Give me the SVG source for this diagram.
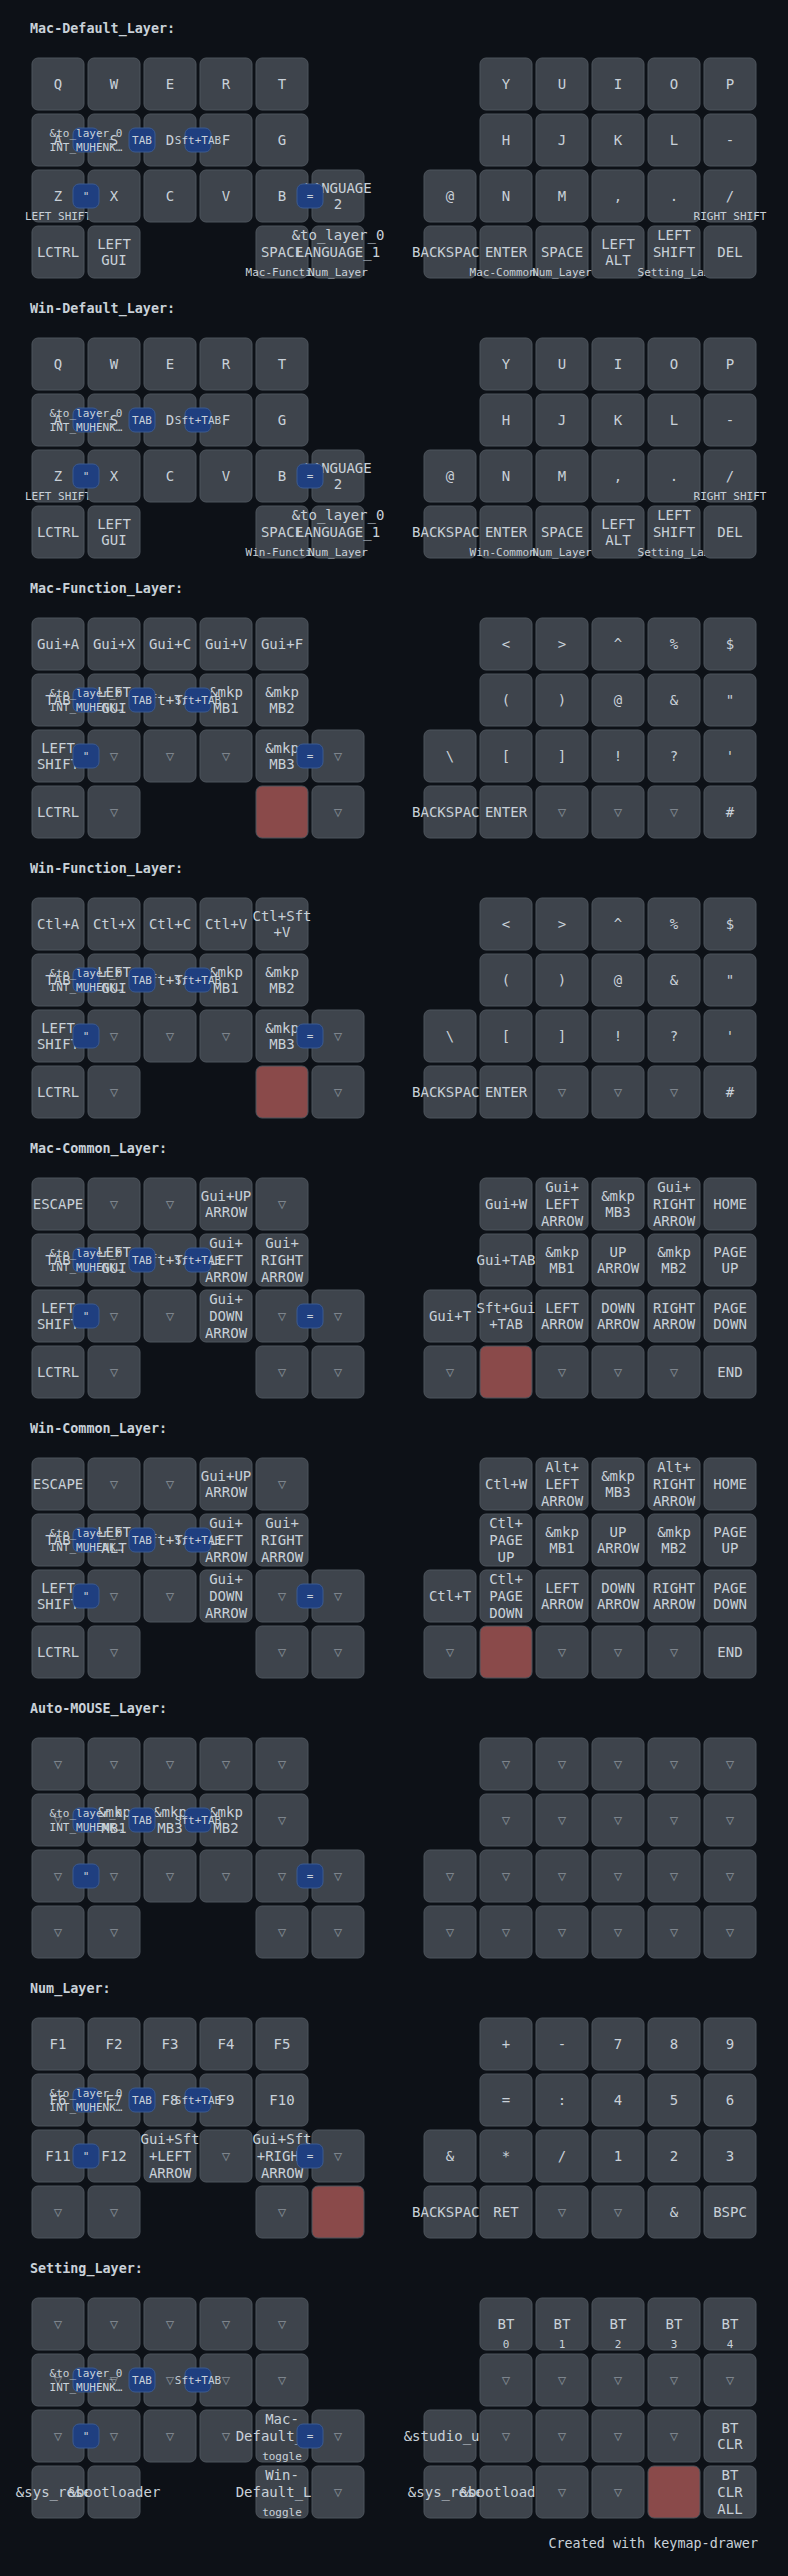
<svg xmlns="http://www.w3.org/2000/svg" xmlns:xlink="http://www.w3.org/1999/xlink" width="788" height="2576" viewBox="0 0 788 2576">
<style>
text{font-family:"DejaVu Sans Mono","Liberation Mono",monospace;font-size:14px;fill:#c9d1d9;text-anchor:middle}
.bg{fill:#0d1117}
.key{fill:#3e444c;stroke:#4d545c;stroke-width:1}
.held{fill:#8a4a4a;stroke:#4d545c;stroke-width:1}
.combo{fill:#1f3f80;stroke:#3b5a90;stroke-width:1}
.h,.c{font-size:11px}
.t{fill:#7d848c}
.label{font-weight:bold;text-anchor:start;font-size:13.4px}
.footer{text-anchor:end;font-size:13.4px}
</style>
<defs>
<rect id="k" class="key" x="-26" y="-26" width="52" height="52" rx="6"/>
<rect id="kh" class="held" x="-26" y="-26" width="52" height="52" rx="6"/>
<rect id="cb" class="combo" x="-13" y="-12" width="26" height="24" rx="6"/>
</defs>
<rect class="bg" x="0" y="0" width="788" height="2576"/>

<g id="layer-mac-default">
<text class="label" x="30" y="33">Mac-Default_Layer:</text>
<g id="md-00" transform="translate(58,84)"><use href="#k"/><text y="5">Q</text></g>
<g id="md-01" transform="translate(114,84)"><use href="#k"/><text y="5">W</text></g>
<g id="md-02" transform="translate(170,84)"><use href="#k"/><text y="5">E</text></g>
<g id="md-03" transform="translate(226,84)"><use href="#k"/><text y="5">R</text></g>
<g id="md-04" transform="translate(282,84)"><use href="#k"/><text y="5">T</text></g>
<g id="md-05" transform="translate(506,84)"><use href="#k"/><text y="5">Y</text></g>
<g id="md-06" transform="translate(562,84)"><use href="#k"/><text y="5">U</text></g>
<g id="md-07" transform="translate(618,84)"><use href="#k"/><text y="5">I</text></g>
<g id="md-08" transform="translate(674,84)"><use href="#k"/><text y="5">O</text></g>
<g id="md-09" transform="translate(730,84)"><use href="#k"/><text y="5">P</text></g>
<g id="md-10" transform="translate(58,140)"><use href="#k"/><text y="5">A</text></g>
<g id="md-11" transform="translate(114,140)"><use href="#k"/><text y="5">S</text></g>
<g id="md-12" transform="translate(170,140)"><use href="#k"/><text y="5">D</text></g>
<g id="md-13" transform="translate(226,140)"><use href="#k"/><text y="5">F</text></g>
<g id="md-14" transform="translate(282,140)"><use href="#k"/><text y="5">G</text></g>
<g id="md-15" transform="translate(506,140)"><use href="#k"/><text y="5">H</text></g>
<g id="md-16" transform="translate(562,140)"><use href="#k"/><text y="5">J</text></g>
<g id="md-17" transform="translate(618,140)"><use href="#k"/><text y="5">K</text></g>
<g id="md-18" transform="translate(674,140)"><use href="#k"/><text y="5">L</text></g>
<g id="md-19" transform="translate(730,140)"><use href="#k"/><text y="5">-</text></g>
<g id="md-20" transform="translate(58,196)"><use href="#k"/><text y="5">Z</text><text class="h" y="24">LEFT SHIFT</text></g>
<g id="md-21" transform="translate(114,196)"><use href="#k"/><text y="5">X</text></g>
<g id="md-22" transform="translate(170,196)"><use href="#k"/><text y="5">C</text></g>
<g id="md-23" transform="translate(226,196)"><use href="#k"/><text y="5">V</text></g>
<g id="md-24" transform="translate(282,196)"><use href="#k"/><text y="5">B</text></g>
<g id="md-25" transform="translate(338,196)"><use href="#k"/><text><tspan x="0" y="-3.4">LANGUAGE</tspan><tspan x="0" y="13.4">2</tspan></text></g>
<g id="md-26" transform="translate(450,196)"><use href="#k"/><text y="5">@</text></g>
<g id="md-27" transform="translate(506,196)"><use href="#k"/><text y="5">N</text></g>
<g id="md-28" transform="translate(562,196)"><use href="#k"/><text y="5">M</text></g>
<g id="md-29" transform="translate(618,196)"><use href="#k"/><text y="5">,</text></g>
<g id="md-30" transform="translate(674,196)"><use href="#k"/><text y="5">.</text></g>
<g id="md-31" transform="translate(730,196)"><use href="#k"/><text y="5">/</text><text class="h" y="24">RIGHT SHIFT</text></g>
<g id="md-32" transform="translate(58,252)"><use href="#k"/><text y="5">LCTRL</text></g>
<g id="md-33" transform="translate(114,252)"><use href="#k"/><text><tspan x="0" y="-3.4">LEFT</tspan><tspan x="0" y="13.4">GUI</tspan></text></g>
<g id="md-34" transform="translate(282,252)"><use href="#k"/><text y="5">SPACE</text><text class="h" y="24">Mac-Functi…</text></g>
<g id="md-35" transform="translate(338,252)"><use href="#k"/><text><tspan x="0" y="-11.8">&amp;to_layer_0</tspan><tspan x="0" y="5">LANGUAGE_1</tspan></text><text class="h" y="24">Num_Layer</text></g>
<g id="md-36" transform="translate(450,252)"><use href="#k"/><text y="5">BACKSPACE</text></g>
<g id="md-37" transform="translate(506,252)"><use href="#k"/><text y="5">ENTER</text><text class="h" y="24">Mac-Common…</text></g>
<g id="md-38" transform="translate(562,252)"><use href="#k"/><text y="5">SPACE</text><text class="h" y="24">Num_Layer</text></g>
<g id="md-39" transform="translate(618,252)"><use href="#k"/><text><tspan x="0" y="-3.4">LEFT</tspan><tspan x="0" y="13.4">ALT</tspan></text></g>
<g id="md-40" transform="translate(674,252)"><use href="#k"/><text><tspan x="0" y="-11.8">LEFT</tspan><tspan x="0" y="5">SHIFT</tspan></text><text class="h" y="24">Setting_La…</text></g>
<g id="md-41" transform="translate(730,252)"><use href="#k"/><text y="5">DEL</text></g>
<g id="md-combos">
<g id="md-c0" transform="translate(86,140)"><use href="#cb"/><text class="c"><tspan x="0" y="-2.6">&amp;to_layer_0</tspan><tspan x="0" y="10.6">INT_MUHENK…</tspan></text></g>
<g id="md-c1" transform="translate(142,140)"><use href="#cb"/><text class="c" y="4">TAB</text></g>
<g id="md-c2" transform="translate(198,140)"><use href="#cb"/><text class="c" y="4">Sft+TAB</text></g>
<g id="md-c3" transform="translate(86,196)"><use href="#cb"/><text class="c" y="4">"</text></g>
<g id="md-c4" transform="translate(310,196)"><use href="#cb"/><text class="c" y="4">=</text></g>
</g>
</g>

<g id="layer-win-default" transform="translate(0,280)">
<text class="label" x="30" y="33">Win-Default_Layer:</text>
<g id="wd-00" transform="translate(58,84)"><use href="#k"/><text y="5">Q</text></g>
<g id="wd-01" transform="translate(114,84)"><use href="#k"/><text y="5">W</text></g>
<g id="wd-02" transform="translate(170,84)"><use href="#k"/><text y="5">E</text></g>
<g id="wd-03" transform="translate(226,84)"><use href="#k"/><text y="5">R</text></g>
<g id="wd-04" transform="translate(282,84)"><use href="#k"/><text y="5">T</text></g>
<g id="wd-05" transform="translate(506,84)"><use href="#k"/><text y="5">Y</text></g>
<g id="wd-06" transform="translate(562,84)"><use href="#k"/><text y="5">U</text></g>
<g id="wd-07" transform="translate(618,84)"><use href="#k"/><text y="5">I</text></g>
<g id="wd-08" transform="translate(674,84)"><use href="#k"/><text y="5">O</text></g>
<g id="wd-09" transform="translate(730,84)"><use href="#k"/><text y="5">P</text></g>
<g id="wd-10" transform="translate(58,140)"><use href="#k"/><text y="5">A</text></g>
<g id="wd-11" transform="translate(114,140)"><use href="#k"/><text y="5">S</text></g>
<g id="wd-12" transform="translate(170,140)"><use href="#k"/><text y="5">D</text></g>
<g id="wd-13" transform="translate(226,140)"><use href="#k"/><text y="5">F</text></g>
<g id="wd-14" transform="translate(282,140)"><use href="#k"/><text y="5">G</text></g>
<g id="wd-15" transform="translate(506,140)"><use href="#k"/><text y="5">H</text></g>
<g id="wd-16" transform="translate(562,140)"><use href="#k"/><text y="5">J</text></g>
<g id="wd-17" transform="translate(618,140)"><use href="#k"/><text y="5">K</text></g>
<g id="wd-18" transform="translate(674,140)"><use href="#k"/><text y="5">L</text></g>
<g id="wd-19" transform="translate(730,140)"><use href="#k"/><text y="5">-</text></g>
<g id="wd-20" transform="translate(58,196)"><use href="#k"/><text y="5">Z</text><text class="h" y="24">LEFT SHIFT</text></g>
<g id="wd-21" transform="translate(114,196)"><use href="#k"/><text y="5">X</text></g>
<g id="wd-22" transform="translate(170,196)"><use href="#k"/><text y="5">C</text></g>
<g id="wd-23" transform="translate(226,196)"><use href="#k"/><text y="5">V</text></g>
<g id="wd-24" transform="translate(282,196)"><use href="#k"/><text y="5">B</text></g>
<g id="wd-25" transform="translate(338,196)"><use href="#k"/><text><tspan x="0" y="-3.4">LANGUAGE</tspan><tspan x="0" y="13.4">2</tspan></text></g>
<g id="wd-26" transform="translate(450,196)"><use href="#k"/><text y="5">@</text></g>
<g id="wd-27" transform="translate(506,196)"><use href="#k"/><text y="5">N</text></g>
<g id="wd-28" transform="translate(562,196)"><use href="#k"/><text y="5">M</text></g>
<g id="wd-29" transform="translate(618,196)"><use href="#k"/><text y="5">,</text></g>
<g id="wd-30" transform="translate(674,196)"><use href="#k"/><text y="5">.</text></g>
<g id="wd-31" transform="translate(730,196)"><use href="#k"/><text y="5">/</text><text class="h" y="24">RIGHT SHIFT</text></g>
<g id="wd-32" transform="translate(58,252)"><use href="#k"/><text y="5">LCTRL</text></g>
<g id="wd-33" transform="translate(114,252)"><use href="#k"/><text><tspan x="0" y="-3.4">LEFT</tspan><tspan x="0" y="13.4">GUI</tspan></text></g>
<g id="wd-34" transform="translate(282,252)"><use href="#k"/><text y="5">SPACE</text><text class="h" y="24">Win-Functi…</text></g>
<g id="wd-35" transform="translate(338,252)"><use href="#k"/><text><tspan x="0" y="-11.8">&amp;to_layer_0</tspan><tspan x="0" y="5">LANGUAGE_1</tspan></text><text class="h" y="24">Num_Layer</text></g>
<g id="wd-36" transform="translate(450,252)"><use href="#k"/><text y="5">BACKSPACE</text></g>
<g id="wd-37" transform="translate(506,252)"><use href="#k"/><text y="5">ENTER</text><text class="h" y="24">Win-Common…</text></g>
<g id="wd-38" transform="translate(562,252)"><use href="#k"/><text y="5">SPACE</text><text class="h" y="24">Num_Layer</text></g>
<g id="wd-39" transform="translate(618,252)"><use href="#k"/><text><tspan x="0" y="-3.4">LEFT</tspan><tspan x="0" y="13.4">ALT</tspan></text></g>
<g id="wd-40" transform="translate(674,252)"><use href="#k"/><text><tspan x="0" y="-11.8">LEFT</tspan><tspan x="0" y="5">SHIFT</tspan></text><text class="h" y="24">Setting_La…</text></g>
<g id="wd-41" transform="translate(730,252)"><use href="#k"/><text y="5">DEL</text></g>
<g id="wd-combos">
<g id="wd-c0" transform="translate(86,140)"><use href="#cb"/><text class="c"><tspan x="0" y="-2.6">&amp;to_layer_0</tspan><tspan x="0" y="10.6">INT_MUHENK…</tspan></text></g>
<g id="wd-c1" transform="translate(142,140)"><use href="#cb"/><text class="c" y="4">TAB</text></g>
<g id="wd-c2" transform="translate(198,140)"><use href="#cb"/><text class="c" y="4">Sft+TAB</text></g>
<g id="wd-c3" transform="translate(86,196)"><use href="#cb"/><text class="c" y="4">"</text></g>
<g id="wd-c4" transform="translate(310,196)"><use href="#cb"/><text class="c" y="4">=</text></g>
</g>
</g>

<g id="layer-mac-function" transform="translate(0,560)">
<text class="label" x="30" y="33">Mac-Function_Layer:</text>
<g id="mf-00" transform="translate(58,84)"><use href="#k"/><text y="5">Gui+A</text></g>
<g id="mf-01" transform="translate(114,84)"><use href="#k"/><text y="5">Gui+X</text></g>
<g id="mf-02" transform="translate(170,84)"><use href="#k"/><text y="5">Gui+C</text></g>
<g id="mf-03" transform="translate(226,84)"><use href="#k"/><text y="5">Gui+V</text></g>
<g id="mf-04" transform="translate(282,84)"><use href="#k"/><text y="5">Gui+F</text></g>
<g id="mf-05" transform="translate(506,84)"><use href="#k"/><text y="5">&lt;</text></g>
<g id="mf-06" transform="translate(562,84)"><use href="#k"/><text y="5">&gt;</text></g>
<g id="mf-07" transform="translate(618,84)"><use href="#k"/><text y="5">^</text></g>
<g id="mf-08" transform="translate(674,84)"><use href="#k"/><text y="5">%</text></g>
<g id="mf-09" transform="translate(730,84)"><use href="#k"/><text y="5">$</text></g>
<g id="mf-10" transform="translate(58,140)"><use href="#k"/><text y="5">TAB</text></g>
<g id="mf-11" transform="translate(114,140)"><use href="#k"/><text><tspan x="0" y="-3.4">LEFT</tspan><tspan x="0" y="13.4">GUI</tspan></text></g>
<g id="mf-12" transform="translate(170,140)"><use href="#k"/><text y="5">Sft+TAB</text></g>
<g id="mf-13" transform="translate(226,140)"><use href="#k"/><text><tspan x="0" y="-3.4">&amp;mkp</tspan><tspan x="0" y="13.4">MB1</tspan></text></g>
<g id="mf-14" transform="translate(282,140)"><use href="#k"/><text><tspan x="0" y="-3.4">&amp;mkp</tspan><tspan x="0" y="13.4">MB2</tspan></text></g>
<g id="mf-15" transform="translate(506,140)"><use href="#k"/><text y="5">(</text></g>
<g id="mf-16" transform="translate(562,140)"><use href="#k"/><text y="5">)</text></g>
<g id="mf-17" transform="translate(618,140)"><use href="#k"/><text y="5">@</text></g>
<g id="mf-18" transform="translate(674,140)"><use href="#k"/><text y="5">&amp;</text></g>
<g id="mf-19" transform="translate(730,140)"><use href="#k"/><text y="5">"</text></g>
<g id="mf-20" transform="translate(58,196)"><use href="#k"/><text><tspan x="0" y="-3.4">LEFT</tspan><tspan x="0" y="13.4">SHIFT</tspan></text></g>
<g id="mf-21" transform="translate(114,196)"><use href="#k"/><text class="t" y="5">▽</text></g>
<g id="mf-22" transform="translate(170,196)"><use href="#k"/><text class="t" y="5">▽</text></g>
<g id="mf-23" transform="translate(226,196)"><use href="#k"/><text class="t" y="5">▽</text></g>
<g id="mf-24" transform="translate(282,196)"><use href="#k"/><text><tspan x="0" y="-3.4">&amp;mkp</tspan><tspan x="0" y="13.4">MB3</tspan></text></g>
<g id="mf-25" transform="translate(338,196)"><use href="#k"/><text class="t" y="5">▽</text></g>
<g id="mf-26" transform="translate(450,196)"><use href="#k"/><text y="5">\</text></g>
<g id="mf-27" transform="translate(506,196)"><use href="#k"/><text y="5">[</text></g>
<g id="mf-28" transform="translate(562,196)"><use href="#k"/><text y="5">]</text></g>
<g id="mf-29" transform="translate(618,196)"><use href="#k"/><text y="5">!</text></g>
<g id="mf-30" transform="translate(674,196)"><use href="#k"/><text y="5">?</text></g>
<g id="mf-31" transform="translate(730,196)"><use href="#k"/><text y="5">'</text></g>
<g id="mf-32" transform="translate(58,252)"><use href="#k"/><text y="5">LCTRL</text></g>
<g id="mf-33" transform="translate(114,252)"><use href="#k"/><text class="t" y="5">▽</text></g>
<g id="mf-34" transform="translate(282,252)"><use href="#kh"/></g>
<g id="mf-35" transform="translate(338,252)"><use href="#k"/><text class="t" y="5">▽</text></g>
<g id="mf-36" transform="translate(450,252)"><use href="#k"/><text y="5">BACKSPACE</text></g>
<g id="mf-37" transform="translate(506,252)"><use href="#k"/><text y="5">ENTER</text></g>
<g id="mf-38" transform="translate(562,252)"><use href="#k"/><text class="t" y="5">▽</text></g>
<g id="mf-39" transform="translate(618,252)"><use href="#k"/><text class="t" y="5">▽</text></g>
<g id="mf-40" transform="translate(674,252)"><use href="#k"/><text class="t" y="5">▽</text></g>
<g id="mf-41" transform="translate(730,252)"><use href="#k"/><text y="5">#</text></g>
<g id="mf-combos">
<g id="mf-c0" transform="translate(86,140)"><use href="#cb"/><text class="c"><tspan x="0" y="-2.6">&amp;to_layer_0</tspan><tspan x="0" y="10.6">INT_MUHENK…</tspan></text></g>
<g id="mf-c1" transform="translate(142,140)"><use href="#cb"/><text class="c" y="4">TAB</text></g>
<g id="mf-c2" transform="translate(198,140)"><use href="#cb"/><text class="c" y="4">Sft+TAB</text></g>
<g id="mf-c3" transform="translate(86,196)"><use href="#cb"/><text class="c" y="4">"</text></g>
<g id="mf-c4" transform="translate(310,196)"><use href="#cb"/><text class="c" y="4">=</text></g>
</g>
</g>

<g id="layer-win-function" transform="translate(0,840)">
<text class="label" x="30" y="33">Win-Function_Layer:</text>
<g id="wf-00" transform="translate(58,84)"><use href="#k"/><text y="5">Ctl+A</text></g>
<g id="wf-01" transform="translate(114,84)"><use href="#k"/><text y="5">Ctl+X</text></g>
<g id="wf-02" transform="translate(170,84)"><use href="#k"/><text y="5">Ctl+C</text></g>
<g id="wf-03" transform="translate(226,84)"><use href="#k"/><text y="5">Ctl+V</text></g>
<g id="wf-04" transform="translate(282,84)"><use href="#k"/><text><tspan x="0" y="-3.4">Ctl+Sft</tspan><tspan x="0" y="13.4">+V</tspan></text></g>
<g id="wf-05" transform="translate(506,84)"><use href="#k"/><text y="5">&lt;</text></g>
<g id="wf-06" transform="translate(562,84)"><use href="#k"/><text y="5">&gt;</text></g>
<g id="wf-07" transform="translate(618,84)"><use href="#k"/><text y="5">^</text></g>
<g id="wf-08" transform="translate(674,84)"><use href="#k"/><text y="5">%</text></g>
<g id="wf-09" transform="translate(730,84)"><use href="#k"/><text y="5">$</text></g>
<g id="wf-10" transform="translate(58,140)"><use href="#k"/><text y="5">TAB</text></g>
<g id="wf-11" transform="translate(114,140)"><use href="#k"/><text><tspan x="0" y="-3.4">LEFT</tspan><tspan x="0" y="13.4">GUI</tspan></text></g>
<g id="wf-12" transform="translate(170,140)"><use href="#k"/><text y="5">Sft+TAB</text></g>
<g id="wf-13" transform="translate(226,140)"><use href="#k"/><text><tspan x="0" y="-3.4">&amp;mkp</tspan><tspan x="0" y="13.4">MB1</tspan></text></g>
<g id="wf-14" transform="translate(282,140)"><use href="#k"/><text><tspan x="0" y="-3.4">&amp;mkp</tspan><tspan x="0" y="13.4">MB2</tspan></text></g>
<g id="wf-15" transform="translate(506,140)"><use href="#k"/><text y="5">(</text></g>
<g id="wf-16" transform="translate(562,140)"><use href="#k"/><text y="5">)</text></g>
<g id="wf-17" transform="translate(618,140)"><use href="#k"/><text y="5">@</text></g>
<g id="wf-18" transform="translate(674,140)"><use href="#k"/><text y="5">&amp;</text></g>
<g id="wf-19" transform="translate(730,140)"><use href="#k"/><text y="5">"</text></g>
<g id="wf-20" transform="translate(58,196)"><use href="#k"/><text><tspan x="0" y="-3.4">LEFT</tspan><tspan x="0" y="13.4">SHIFT</tspan></text></g>
<g id="wf-21" transform="translate(114,196)"><use href="#k"/><text class="t" y="5">▽</text></g>
<g id="wf-22" transform="translate(170,196)"><use href="#k"/><text class="t" y="5">▽</text></g>
<g id="wf-23" transform="translate(226,196)"><use href="#k"/><text class="t" y="5">▽</text></g>
<g id="wf-24" transform="translate(282,196)"><use href="#k"/><text><tspan x="0" y="-3.4">&amp;mkp</tspan><tspan x="0" y="13.4">MB3</tspan></text></g>
<g id="wf-25" transform="translate(338,196)"><use href="#k"/><text class="t" y="5">▽</text></g>
<g id="wf-26" transform="translate(450,196)"><use href="#k"/><text y="5">\</text></g>
<g id="wf-27" transform="translate(506,196)"><use href="#k"/><text y="5">[</text></g>
<g id="wf-28" transform="translate(562,196)"><use href="#k"/><text y="5">]</text></g>
<g id="wf-29" transform="translate(618,196)"><use href="#k"/><text y="5">!</text></g>
<g id="wf-30" transform="translate(674,196)"><use href="#k"/><text y="5">?</text></g>
<g id="wf-31" transform="translate(730,196)"><use href="#k"/><text y="5">'</text></g>
<g id="wf-32" transform="translate(58,252)"><use href="#k"/><text y="5">LCTRL</text></g>
<g id="wf-33" transform="translate(114,252)"><use href="#k"/><text class="t" y="5">▽</text></g>
<g id="wf-34" transform="translate(282,252)"><use href="#kh"/></g>
<g id="wf-35" transform="translate(338,252)"><use href="#k"/><text class="t" y="5">▽</text></g>
<g id="wf-36" transform="translate(450,252)"><use href="#k"/><text y="5">BACKSPACE</text></g>
<g id="wf-37" transform="translate(506,252)"><use href="#k"/><text y="5">ENTER</text></g>
<g id="wf-38" transform="translate(562,252)"><use href="#k"/><text class="t" y="5">▽</text></g>
<g id="wf-39" transform="translate(618,252)"><use href="#k"/><text class="t" y="5">▽</text></g>
<g id="wf-40" transform="translate(674,252)"><use href="#k"/><text class="t" y="5">▽</text></g>
<g id="wf-41" transform="translate(730,252)"><use href="#k"/><text y="5">#</text></g>
<g id="wf-combos">
<g id="wf-c0" transform="translate(86,140)"><use href="#cb"/><text class="c"><tspan x="0" y="-2.6">&amp;to_layer_0</tspan><tspan x="0" y="10.6">INT_MUHENK…</tspan></text></g>
<g id="wf-c1" transform="translate(142,140)"><use href="#cb"/><text class="c" y="4">TAB</text></g>
<g id="wf-c2" transform="translate(198,140)"><use href="#cb"/><text class="c" y="4">Sft+TAB</text></g>
<g id="wf-c3" transform="translate(86,196)"><use href="#cb"/><text class="c" y="4">"</text></g>
<g id="wf-c4" transform="translate(310,196)"><use href="#cb"/><text class="c" y="4">=</text></g>
</g>
</g>

<g id="layer-mac-common" transform="translate(0,1120)">
<text class="label" x="30" y="33">Mac-Common_Layer:</text>
<g id="mc-00" transform="translate(58,84)"><use href="#k"/><text y="5">ESCAPE</text></g>
<g id="mc-01" transform="translate(114,84)"><use href="#k"/><text class="t" y="5">▽</text></g>
<g id="mc-02" transform="translate(170,84)"><use href="#k"/><text class="t" y="5">▽</text></g>
<g id="mc-03" transform="translate(226,84)"><use href="#k"/><text><tspan x="0" y="-3.4">Gui+UP</tspan><tspan x="0" y="13.4">ARROW</tspan></text></g>
<g id="mc-04" transform="translate(282,84)"><use href="#k"/><text class="t" y="5">▽</text></g>
<g id="mc-05" transform="translate(506,84)"><use href="#k"/><text y="5">Gui+W</text></g>
<g id="mc-06" transform="translate(562,84)"><use href="#k"/><text><tspan x="0" y="-11.8">Gui+</tspan><tspan x="0" y="5">LEFT</tspan><tspan x="0" y="21.8">ARROW</tspan></text></g>
<g id="mc-07" transform="translate(618,84)"><use href="#k"/><text><tspan x="0" y="-3.4">&amp;mkp</tspan><tspan x="0" y="13.4">MB3</tspan></text></g>
<g id="mc-08" transform="translate(674,84)"><use href="#k"/><text><tspan x="0" y="-11.8">Gui+</tspan><tspan x="0" y="5">RIGHT</tspan><tspan x="0" y="21.8">ARROW</tspan></text></g>
<g id="mc-09" transform="translate(730,84)"><use href="#k"/><text y="5">HOME</text></g>
<g id="mc-10" transform="translate(58,140)"><use href="#k"/><text y="5">TAB</text></g>
<g id="mc-11" transform="translate(114,140)"><use href="#k"/><text><tspan x="0" y="-3.4">LEFT</tspan><tspan x="0" y="13.4">GUI</tspan></text></g>
<g id="mc-12" transform="translate(170,140)"><use href="#k"/><text y="5">Sft+TAB</text></g>
<g id="mc-13" transform="translate(226,140)"><use href="#k"/><text><tspan x="0" y="-11.8">Gui+</tspan><tspan x="0" y="5">LEFT</tspan><tspan x="0" y="21.8">ARROW</tspan></text></g>
<g id="mc-14" transform="translate(282,140)"><use href="#k"/><text><tspan x="0" y="-11.8">Gui+</tspan><tspan x="0" y="5">RIGHT</tspan><tspan x="0" y="21.8">ARROW</tspan></text></g>
<g id="mc-15" transform="translate(506,140)"><use href="#k"/><text y="5">Gui+TAB</text></g>
<g id="mc-16" transform="translate(562,140)"><use href="#k"/><text><tspan x="0" y="-3.4">&amp;mkp</tspan><tspan x="0" y="13.4">MB1</tspan></text></g>
<g id="mc-17" transform="translate(618,140)"><use href="#k"/><text><tspan x="0" y="-3.4">UP</tspan><tspan x="0" y="13.4">ARROW</tspan></text></g>
<g id="mc-18" transform="translate(674,140)"><use href="#k"/><text><tspan x="0" y="-3.4">&amp;mkp</tspan><tspan x="0" y="13.4">MB2</tspan></text></g>
<g id="mc-19" transform="translate(730,140)"><use href="#k"/><text><tspan x="0" y="-3.4">PAGE</tspan><tspan x="0" y="13.4">UP</tspan></text></g>
<g id="mc-20" transform="translate(58,196)"><use href="#k"/><text><tspan x="0" y="-3.4">LEFT</tspan><tspan x="0" y="13.4">SHIFT</tspan></text></g>
<g id="mc-21" transform="translate(114,196)"><use href="#k"/><text class="t" y="5">▽</text></g>
<g id="mc-22" transform="translate(170,196)"><use href="#k"/><text class="t" y="5">▽</text></g>
<g id="mc-23" transform="translate(226,196)"><use href="#k"/><text><tspan x="0" y="-11.8">Gui+</tspan><tspan x="0" y="5">DOWN</tspan><tspan x="0" y="21.8">ARROW</tspan></text></g>
<g id="mc-24" transform="translate(282,196)"><use href="#k"/><text class="t" y="5">▽</text></g>
<g id="mc-25" transform="translate(338,196)"><use href="#k"/><text class="t" y="5">▽</text></g>
<g id="mc-26" transform="translate(450,196)"><use href="#k"/><text y="5">Gui+T</text></g>
<g id="mc-27" transform="translate(506,196)"><use href="#k"/><text><tspan x="0" y="-3.4">Sft+Gui</tspan><tspan x="0" y="13.4">+TAB</tspan></text></g>
<g id="mc-28" transform="translate(562,196)"><use href="#k"/><text><tspan x="0" y="-3.4">LEFT</tspan><tspan x="0" y="13.4">ARROW</tspan></text></g>
<g id="mc-29" transform="translate(618,196)"><use href="#k"/><text><tspan x="0" y="-3.4">DOWN</tspan><tspan x="0" y="13.4">ARROW</tspan></text></g>
<g id="mc-30" transform="translate(674,196)"><use href="#k"/><text><tspan x="0" y="-3.4">RIGHT</tspan><tspan x="0" y="13.4">ARROW</tspan></text></g>
<g id="mc-31" transform="translate(730,196)"><use href="#k"/><text><tspan x="0" y="-3.4">PAGE</tspan><tspan x="0" y="13.4">DOWN</tspan></text></g>
<g id="mc-32" transform="translate(58,252)"><use href="#k"/><text y="5">LCTRL</text></g>
<g id="mc-33" transform="translate(114,252)"><use href="#k"/><text class="t" y="5">▽</text></g>
<g id="mc-34" transform="translate(282,252)"><use href="#k"/><text class="t" y="5">▽</text></g>
<g id="mc-35" transform="translate(338,252)"><use href="#k"/><text class="t" y="5">▽</text></g>
<g id="mc-36" transform="translate(450,252)"><use href="#k"/><text class="t" y="5">▽</text></g>
<g id="mc-37" transform="translate(506,252)"><use href="#kh"/></g>
<g id="mc-38" transform="translate(562,252)"><use href="#k"/><text class="t" y="5">▽</text></g>
<g id="mc-39" transform="translate(618,252)"><use href="#k"/><text class="t" y="5">▽</text></g>
<g id="mc-40" transform="translate(674,252)"><use href="#k"/><text class="t" y="5">▽</text></g>
<g id="mc-41" transform="translate(730,252)"><use href="#k"/><text y="5">END</text></g>
<g id="mc-combos">
<g id="mc-c0" transform="translate(86,140)"><use href="#cb"/><text class="c"><tspan x="0" y="-2.6">&amp;to_layer_0</tspan><tspan x="0" y="10.6">INT_MUHENK…</tspan></text></g>
<g id="mc-c1" transform="translate(142,140)"><use href="#cb"/><text class="c" y="4">TAB</text></g>
<g id="mc-c2" transform="translate(198,140)"><use href="#cb"/><text class="c" y="4">Sft+TAB</text></g>
<g id="mc-c3" transform="translate(86,196)"><use href="#cb"/><text class="c" y="4">"</text></g>
<g id="mc-c4" transform="translate(310,196)"><use href="#cb"/><text class="c" y="4">=</text></g>
</g>
</g>

<g id="layer-win-common" transform="translate(0,1400)">
<text class="label" x="30" y="33">Win-Common_Layer:</text>
<g id="wc-00" transform="translate(58,84)"><use href="#k"/><text y="5">ESCAPE</text></g>
<g id="wc-01" transform="translate(114,84)"><use href="#k"/><text class="t" y="5">▽</text></g>
<g id="wc-02" transform="translate(170,84)"><use href="#k"/><text class="t" y="5">▽</text></g>
<g id="wc-03" transform="translate(226,84)"><use href="#k"/><text><tspan x="0" y="-3.4">Gui+UP</tspan><tspan x="0" y="13.4">ARROW</tspan></text></g>
<g id="wc-04" transform="translate(282,84)"><use href="#k"/><text class="t" y="5">▽</text></g>
<g id="wc-05" transform="translate(506,84)"><use href="#k"/><text y="5">Ctl+W</text></g>
<g id="wc-06" transform="translate(562,84)"><use href="#k"/><text><tspan x="0" y="-11.8">Alt+</tspan><tspan x="0" y="5">LEFT</tspan><tspan x="0" y="21.8">ARROW</tspan></text></g>
<g id="wc-07" transform="translate(618,84)"><use href="#k"/><text><tspan x="0" y="-3.4">&amp;mkp</tspan><tspan x="0" y="13.4">MB3</tspan></text></g>
<g id="wc-08" transform="translate(674,84)"><use href="#k"/><text><tspan x="0" y="-11.8">Alt+</tspan><tspan x="0" y="5">RIGHT</tspan><tspan x="0" y="21.8">ARROW</tspan></text></g>
<g id="wc-09" transform="translate(730,84)"><use href="#k"/><text y="5">HOME</text></g>
<g id="wc-10" transform="translate(58,140)"><use href="#k"/><text y="5">TAB</text></g>
<g id="wc-11" transform="translate(114,140)"><use href="#k"/><text><tspan x="0" y="-3.4">LEFT</tspan><tspan x="0" y="13.4">ALT</tspan></text></g>
<g id="wc-12" transform="translate(170,140)"><use href="#k"/><text y="5">Sft+TAB</text></g>
<g id="wc-13" transform="translate(226,140)"><use href="#k"/><text><tspan x="0" y="-11.8">Gui+</tspan><tspan x="0" y="5">LEFT</tspan><tspan x="0" y="21.8">ARROW</tspan></text></g>
<g id="wc-14" transform="translate(282,140)"><use href="#k"/><text><tspan x="0" y="-11.8">Gui+</tspan><tspan x="0" y="5">RIGHT</tspan><tspan x="0" y="21.8">ARROW</tspan></text></g>
<g id="wc-15" transform="translate(506,140)"><use href="#k"/><text><tspan x="0" y="-11.8">Ctl+</tspan><tspan x="0" y="5">PAGE</tspan><tspan x="0" y="21.8">UP</tspan></text></g>
<g id="wc-16" transform="translate(562,140)"><use href="#k"/><text><tspan x="0" y="-3.4">&amp;mkp</tspan><tspan x="0" y="13.4">MB1</tspan></text></g>
<g id="wc-17" transform="translate(618,140)"><use href="#k"/><text><tspan x="0" y="-3.4">UP</tspan><tspan x="0" y="13.4">ARROW</tspan></text></g>
<g id="wc-18" transform="translate(674,140)"><use href="#k"/><text><tspan x="0" y="-3.4">&amp;mkp</tspan><tspan x="0" y="13.4">MB2</tspan></text></g>
<g id="wc-19" transform="translate(730,140)"><use href="#k"/><text><tspan x="0" y="-3.4">PAGE</tspan><tspan x="0" y="13.4">UP</tspan></text></g>
<g id="wc-20" transform="translate(58,196)"><use href="#k"/><text><tspan x="0" y="-3.4">LEFT</tspan><tspan x="0" y="13.4">SHIFT</tspan></text></g>
<g id="wc-21" transform="translate(114,196)"><use href="#k"/><text class="t" y="5">▽</text></g>
<g id="wc-22" transform="translate(170,196)"><use href="#k"/><text class="t" y="5">▽</text></g>
<g id="wc-23" transform="translate(226,196)"><use href="#k"/><text><tspan x="0" y="-11.8">Gui+</tspan><tspan x="0" y="5">DOWN</tspan><tspan x="0" y="21.8">ARROW</tspan></text></g>
<g id="wc-24" transform="translate(282,196)"><use href="#k"/><text class="t" y="5">▽</text></g>
<g id="wc-25" transform="translate(338,196)"><use href="#k"/><text class="t" y="5">▽</text></g>
<g id="wc-26" transform="translate(450,196)"><use href="#k"/><text y="5">Ctl+T</text></g>
<g id="wc-27" transform="translate(506,196)"><use href="#k"/><text><tspan x="0" y="-11.8">Ctl+</tspan><tspan x="0" y="5">PAGE</tspan><tspan x="0" y="21.8">DOWN</tspan></text></g>
<g id="wc-28" transform="translate(562,196)"><use href="#k"/><text><tspan x="0" y="-3.4">LEFT</tspan><tspan x="0" y="13.4">ARROW</tspan></text></g>
<g id="wc-29" transform="translate(618,196)"><use href="#k"/><text><tspan x="0" y="-3.4">DOWN</tspan><tspan x="0" y="13.4">ARROW</tspan></text></g>
<g id="wc-30" transform="translate(674,196)"><use href="#k"/><text><tspan x="0" y="-3.4">RIGHT</tspan><tspan x="0" y="13.4">ARROW</tspan></text></g>
<g id="wc-31" transform="translate(730,196)"><use href="#k"/><text><tspan x="0" y="-3.4">PAGE</tspan><tspan x="0" y="13.4">DOWN</tspan></text></g>
<g id="wc-32" transform="translate(58,252)"><use href="#k"/><text y="5">LCTRL</text></g>
<g id="wc-33" transform="translate(114,252)"><use href="#k"/><text class="t" y="5">▽</text></g>
<g id="wc-34" transform="translate(282,252)"><use href="#k"/><text class="t" y="5">▽</text></g>
<g id="wc-35" transform="translate(338,252)"><use href="#k"/><text class="t" y="5">▽</text></g>
<g id="wc-36" transform="translate(450,252)"><use href="#k"/><text class="t" y="5">▽</text></g>
<g id="wc-37" transform="translate(506,252)"><use href="#kh"/></g>
<g id="wc-38" transform="translate(562,252)"><use href="#k"/><text class="t" y="5">▽</text></g>
<g id="wc-39" transform="translate(618,252)"><use href="#k"/><text class="t" y="5">▽</text></g>
<g id="wc-40" transform="translate(674,252)"><use href="#k"/><text class="t" y="5">▽</text></g>
<g id="wc-41" transform="translate(730,252)"><use href="#k"/><text y="5">END</text></g>
<g id="wc-combos">
<g id="wc-c0" transform="translate(86,140)"><use href="#cb"/><text class="c"><tspan x="0" y="-2.6">&amp;to_layer_0</tspan><tspan x="0" y="10.6">INT_MUHENK…</tspan></text></g>
<g id="wc-c1" transform="translate(142,140)"><use href="#cb"/><text class="c" y="4">TAB</text></g>
<g id="wc-c2" transform="translate(198,140)"><use href="#cb"/><text class="c" y="4">Sft+TAB</text></g>
<g id="wc-c3" transform="translate(86,196)"><use href="#cb"/><text class="c" y="4">"</text></g>
<g id="wc-c4" transform="translate(310,196)"><use href="#cb"/><text class="c" y="4">=</text></g>
</g>
</g>

<g id="layer-auto-mouse" transform="translate(0,1680)">
<text class="label" x="30" y="33">Auto-MOUSE_Layer:</text>
<g id="am-00" transform="translate(58,84)"><use href="#k"/><text class="t" y="5">▽</text></g>
<g id="am-01" transform="translate(114,84)"><use href="#k"/><text class="t" y="5">▽</text></g>
<g id="am-02" transform="translate(170,84)"><use href="#k"/><text class="t" y="5">▽</text></g>
<g id="am-03" transform="translate(226,84)"><use href="#k"/><text class="t" y="5">▽</text></g>
<g id="am-04" transform="translate(282,84)"><use href="#k"/><text class="t" y="5">▽</text></g>
<g id="am-05" transform="translate(506,84)"><use href="#k"/><text class="t" y="5">▽</text></g>
<g id="am-06" transform="translate(562,84)"><use href="#k"/><text class="t" y="5">▽</text></g>
<g id="am-07" transform="translate(618,84)"><use href="#k"/><text class="t" y="5">▽</text></g>
<g id="am-08" transform="translate(674,84)"><use href="#k"/><text class="t" y="5">▽</text></g>
<g id="am-09" transform="translate(730,84)"><use href="#k"/><text class="t" y="5">▽</text></g>
<g id="am-10" transform="translate(58,140)"><use href="#k"/><text class="t" y="5">▽</text></g>
<g id="am-11" transform="translate(114,140)"><use href="#k"/><text><tspan x="0" y="-3.4">&amp;mkp</tspan><tspan x="0" y="13.4">MB1</tspan></text></g>
<g id="am-12" transform="translate(170,140)"><use href="#k"/><text><tspan x="0" y="-3.4">&amp;mkp</tspan><tspan x="0" y="13.4">MB3</tspan></text></g>
<g id="am-13" transform="translate(226,140)"><use href="#k"/><text><tspan x="0" y="-3.4">&amp;mkp</tspan><tspan x="0" y="13.4">MB2</tspan></text></g>
<g id="am-14" transform="translate(282,140)"><use href="#k"/><text class="t" y="5">▽</text></g>
<g id="am-15" transform="translate(506,140)"><use href="#k"/><text class="t" y="5">▽</text></g>
<g id="am-16" transform="translate(562,140)"><use href="#k"/><text class="t" y="5">▽</text></g>
<g id="am-17" transform="translate(618,140)"><use href="#k"/><text class="t" y="5">▽</text></g>
<g id="am-18" transform="translate(674,140)"><use href="#k"/><text class="t" y="5">▽</text></g>
<g id="am-19" transform="translate(730,140)"><use href="#k"/><text class="t" y="5">▽</text></g>
<g id="am-20" transform="translate(58,196)"><use href="#k"/><text class="t" y="5">▽</text></g>
<g id="am-21" transform="translate(114,196)"><use href="#k"/><text class="t" y="5">▽</text></g>
<g id="am-22" transform="translate(170,196)"><use href="#k"/><text class="t" y="5">▽</text></g>
<g id="am-23" transform="translate(226,196)"><use href="#k"/><text class="t" y="5">▽</text></g>
<g id="am-24" transform="translate(282,196)"><use href="#k"/><text class="t" y="5">▽</text></g>
<g id="am-25" transform="translate(338,196)"><use href="#k"/><text class="t" y="5">▽</text></g>
<g id="am-26" transform="translate(450,196)"><use href="#k"/><text class="t" y="5">▽</text></g>
<g id="am-27" transform="translate(506,196)"><use href="#k"/><text class="t" y="5">▽</text></g>
<g id="am-28" transform="translate(562,196)"><use href="#k"/><text class="t" y="5">▽</text></g>
<g id="am-29" transform="translate(618,196)"><use href="#k"/><text class="t" y="5">▽</text></g>
<g id="am-30" transform="translate(674,196)"><use href="#k"/><text class="t" y="5">▽</text></g>
<g id="am-31" transform="translate(730,196)"><use href="#k"/><text class="t" y="5">▽</text></g>
<g id="am-32" transform="translate(58,252)"><use href="#k"/><text class="t" y="5">▽</text></g>
<g id="am-33" transform="translate(114,252)"><use href="#k"/><text class="t" y="5">▽</text></g>
<g id="am-34" transform="translate(282,252)"><use href="#k"/><text class="t" y="5">▽</text></g>
<g id="am-35" transform="translate(338,252)"><use href="#k"/><text class="t" y="5">▽</text></g>
<g id="am-36" transform="translate(450,252)"><use href="#k"/><text class="t" y="5">▽</text></g>
<g id="am-37" transform="translate(506,252)"><use href="#k"/><text class="t" y="5">▽</text></g>
<g id="am-38" transform="translate(562,252)"><use href="#k"/><text class="t" y="5">▽</text></g>
<g id="am-39" transform="translate(618,252)"><use href="#k"/><text class="t" y="5">▽</text></g>
<g id="am-40" transform="translate(674,252)"><use href="#k"/><text class="t" y="5">▽</text></g>
<g id="am-41" transform="translate(730,252)"><use href="#k"/><text class="t" y="5">▽</text></g>
<g id="am-combos">
<g id="am-c0" transform="translate(86,140)"><use href="#cb"/><text class="c"><tspan x="0" y="-2.6">&amp;to_layer_0</tspan><tspan x="0" y="10.6">INT_MUHENK…</tspan></text></g>
<g id="am-c1" transform="translate(142,140)"><use href="#cb"/><text class="c" y="4">TAB</text></g>
<g id="am-c2" transform="translate(198,140)"><use href="#cb"/><text class="c" y="4">Sft+TAB</text></g>
<g id="am-c3" transform="translate(86,196)"><use href="#cb"/><text class="c" y="4">"</text></g>
<g id="am-c4" transform="translate(310,196)"><use href="#cb"/><text class="c" y="4">=</text></g>
</g>
</g>

<g id="layer-num" transform="translate(0,1960)">
<text class="label" x="30" y="33">Num_Layer:</text>
<g id="nl-00" transform="translate(58,84)"><use href="#k"/><text y="5">F1</text></g>
<g id="nl-01" transform="translate(114,84)"><use href="#k"/><text y="5">F2</text></g>
<g id="nl-02" transform="translate(170,84)"><use href="#k"/><text y="5">F3</text></g>
<g id="nl-03" transform="translate(226,84)"><use href="#k"/><text y="5">F4</text></g>
<g id="nl-04" transform="translate(282,84)"><use href="#k"/><text y="5">F5</text></g>
<g id="nl-05" transform="translate(506,84)"><use href="#k"/><text y="5">+</text></g>
<g id="nl-06" transform="translate(562,84)"><use href="#k"/><text y="5">-</text></g>
<g id="nl-07" transform="translate(618,84)"><use href="#k"/><text y="5">7</text></g>
<g id="nl-08" transform="translate(674,84)"><use href="#k"/><text y="5">8</text></g>
<g id="nl-09" transform="translate(730,84)"><use href="#k"/><text y="5">9</text></g>
<g id="nl-10" transform="translate(58,140)"><use href="#k"/><text y="5">F6</text></g>
<g id="nl-11" transform="translate(114,140)"><use href="#k"/><text y="5">F7</text></g>
<g id="nl-12" transform="translate(170,140)"><use href="#k"/><text y="5">F8</text></g>
<g id="nl-13" transform="translate(226,140)"><use href="#k"/><text y="5">F9</text></g>
<g id="nl-14" transform="translate(282,140)"><use href="#k"/><text y="5">F10</text></g>
<g id="nl-15" transform="translate(506,140)"><use href="#k"/><text y="5">=</text></g>
<g id="nl-16" transform="translate(562,140)"><use href="#k"/><text y="5">:</text></g>
<g id="nl-17" transform="translate(618,140)"><use href="#k"/><text y="5">4</text></g>
<g id="nl-18" transform="translate(674,140)"><use href="#k"/><text y="5">5</text></g>
<g id="nl-19" transform="translate(730,140)"><use href="#k"/><text y="5">6</text></g>
<g id="nl-20" transform="translate(58,196)"><use href="#k"/><text y="5">F11</text></g>
<g id="nl-21" transform="translate(114,196)"><use href="#k"/><text y="5">F12</text></g>
<g id="nl-22" transform="translate(170,196)"><use href="#k"/><text><tspan x="0" y="-11.8">Gui+Sft</tspan><tspan x="0" y="5">+LEFT</tspan><tspan x="0" y="21.8">ARROW</tspan></text></g>
<g id="nl-23" transform="translate(226,196)"><use href="#k"/><text class="t" y="5">▽</text></g>
<g id="nl-24" transform="translate(282,196)"><use href="#k"/><text><tspan x="0" y="-11.8">Gui+Sft</tspan><tspan x="0" y="5">+RIGHT</tspan><tspan x="0" y="21.8">ARROW</tspan></text></g>
<g id="nl-25" transform="translate(338,196)"><use href="#k"/><text class="t" y="5">▽</text></g>
<g id="nl-26" transform="translate(450,196)"><use href="#k"/><text y="5">&amp;</text></g>
<g id="nl-27" transform="translate(506,196)"><use href="#k"/><text y="5">*</text></g>
<g id="nl-28" transform="translate(562,196)"><use href="#k"/><text y="5">/</text></g>
<g id="nl-29" transform="translate(618,196)"><use href="#k"/><text y="5">1</text></g>
<g id="nl-30" transform="translate(674,196)"><use href="#k"/><text y="5">2</text></g>
<g id="nl-31" transform="translate(730,196)"><use href="#k"/><text y="5">3</text></g>
<g id="nl-32" transform="translate(58,252)"><use href="#k"/><text class="t" y="5">▽</text></g>
<g id="nl-33" transform="translate(114,252)"><use href="#k"/><text class="t" y="5">▽</text></g>
<g id="nl-34" transform="translate(282,252)"><use href="#k"/><text class="t" y="5">▽</text></g>
<g id="nl-35" transform="translate(338,252)"><use href="#kh"/></g>
<g id="nl-36" transform="translate(450,252)"><use href="#k"/><text y="5">BACKSPACE</text></g>
<g id="nl-37" transform="translate(506,252)"><use href="#k"/><text y="5">RET</text></g>
<g id="nl-38" transform="translate(562,252)"><use href="#k"/><text class="t" y="5">▽</text></g>
<g id="nl-39" transform="translate(618,252)"><use href="#k"/><text class="t" y="5">▽</text></g>
<g id="nl-40" transform="translate(674,252)"><use href="#k"/><text y="5">&amp;</text></g>
<g id="nl-41" transform="translate(730,252)"><use href="#k"/><text y="5">BSPC</text></g>
<g id="nl-combos">
<g id="nl-c0" transform="translate(86,140)"><use href="#cb"/><text class="c"><tspan x="0" y="-2.6">&amp;to_layer_0</tspan><tspan x="0" y="10.6">INT_MUHENK…</tspan></text></g>
<g id="nl-c1" transform="translate(142,140)"><use href="#cb"/><text class="c" y="4">TAB</text></g>
<g id="nl-c2" transform="translate(198,140)"><use href="#cb"/><text class="c" y="4">Sft+TAB</text></g>
<g id="nl-c3" transform="translate(86,196)"><use href="#cb"/><text class="c" y="4">"</text></g>
<g id="nl-c4" transform="translate(310,196)"><use href="#cb"/><text class="c" y="4">=</text></g>
</g>
</g>

<g id="layer-setting" transform="translate(0,2240)">
<text class="label" x="30" y="33">Setting_Layer:</text>
<g id="st-00" transform="translate(58,84)"><use href="#k"/><text class="t" y="5">▽</text></g>
<g id="st-01" transform="translate(114,84)"><use href="#k"/><text class="t" y="5">▽</text></g>
<g id="st-02" transform="translate(170,84)"><use href="#k"/><text class="t" y="5">▽</text></g>
<g id="st-03" transform="translate(226,84)"><use href="#k"/><text class="t" y="5">▽</text></g>
<g id="st-04" transform="translate(282,84)"><use href="#k"/><text class="t" y="5">▽</text></g>
<g id="st-05" transform="translate(506,84)"><use href="#k"/><text y="5">BT</text><text class="h" y="24">0</text></g>
<g id="st-06" transform="translate(562,84)"><use href="#k"/><text y="5">BT</text><text class="h" y="24">1</text></g>
<g id="st-07" transform="translate(618,84)"><use href="#k"/><text y="5">BT</text><text class="h" y="24">2</text></g>
<g id="st-08" transform="translate(674,84)"><use href="#k"/><text y="5">BT</text><text class="h" y="24">3</text></g>
<g id="st-09" transform="translate(730,84)"><use href="#k"/><text y="5">BT</text><text class="h" y="24">4</text></g>
<g id="st-10" transform="translate(58,140)"><use href="#k"/><text class="t" y="5">▽</text></g>
<g id="st-11" transform="translate(114,140)"><use href="#k"/><text class="t" y="5">▽</text></g>
<g id="st-12" transform="translate(170,140)"><use href="#k"/><text class="t" y="5">▽</text></g>
<g id="st-13" transform="translate(226,140)"><use href="#k"/><text class="t" y="5">▽</text></g>
<g id="st-14" transform="translate(282,140)"><use href="#k"/><text class="t" y="5">▽</text></g>
<g id="st-15" transform="translate(506,140)"><use href="#k"/><text class="t" y="5">▽</text></g>
<g id="st-16" transform="translate(562,140)"><use href="#k"/><text class="t" y="5">▽</text></g>
<g id="st-17" transform="translate(618,140)"><use href="#k"/><text class="t" y="5">▽</text></g>
<g id="st-18" transform="translate(674,140)"><use href="#k"/><text class="t" y="5">▽</text></g>
<g id="st-19" transform="translate(730,140)"><use href="#k"/><text class="t" y="5">▽</text></g>
<g id="st-20" transform="translate(58,196)"><use href="#k"/><text class="t" y="5">▽</text></g>
<g id="st-21" transform="translate(114,196)"><use href="#k"/><text class="t" y="5">▽</text></g>
<g id="st-22" transform="translate(170,196)"><use href="#k"/><text class="t" y="5">▽</text></g>
<g id="st-23" transform="translate(226,196)"><use href="#k"/><text class="t" y="5">▽</text></g>
<g id="st-24" transform="translate(282,196)"><use href="#k"/><text><tspan x="0" y="-11.8">Mac-</tspan><tspan x="0" y="5">Default_La…</tspan></text><text class="h" y="24">toggle</text></g>
<g id="st-25" transform="translate(338,196)"><use href="#k"/><text class="t" y="5">▽</text></g>
<g id="st-26" transform="translate(450,196)"><use href="#k"/><text y="5">&amp;studio_un…</text></g>
<g id="st-27" transform="translate(506,196)"><use href="#k"/><text class="t" y="5">▽</text></g>
<g id="st-28" transform="translate(562,196)"><use href="#k"/><text class="t" y="5">▽</text></g>
<g id="st-29" transform="translate(618,196)"><use href="#k"/><text class="t" y="5">▽</text></g>
<g id="st-30" transform="translate(674,196)"><use href="#k"/><text class="t" y="5">▽</text></g>
<g id="st-31" transform="translate(730,196)"><use href="#k"/><text><tspan x="0" y="-3.4">BT</tspan><tspan x="0" y="13.4">CLR</tspan></text></g>
<g id="st-32" transform="translate(58,252)"><use href="#k"/><text y="5">&amp;sys_reset</text></g>
<g id="st-33" transform="translate(114,252)"><use href="#k"/><text y="5">&amp;bootloader</text></g>
<g id="st-34" transform="translate(282,252)"><use href="#k"/><text><tspan x="0" y="-11.8">Win-</tspan><tspan x="0" y="5">Default_La…</tspan></text><text class="h" y="24">toggle</text></g>
<g id="st-35" transform="translate(338,252)"><use href="#k"/><text class="t" y="5">▽</text></g>
<g id="st-36" transform="translate(450,252)"><use href="#k"/><text y="5">&amp;sys_reset</text></g>
<g id="st-37" transform="translate(506,252)"><use href="#k"/><text y="5">&amp;bootloader</text></g>
<g id="st-38" transform="translate(562,252)"><use href="#k"/><text class="t" y="5">▽</text></g>
<g id="st-39" transform="translate(618,252)"><use href="#k"/><text class="t" y="5">▽</text></g>
<g id="st-40" transform="translate(674,252)"><use href="#kh"/></g>
<g id="st-41" transform="translate(730,252)"><use href="#k"/><text><tspan x="0" y="-11.8">BT</tspan><tspan x="0" y="5">CLR</tspan><tspan x="0" y="21.8">ALL</tspan></text></g>
<g id="st-combos">
<g id="st-c0" transform="translate(86,140)"><use href="#cb"/><text class="c"><tspan x="0" y="-2.6">&amp;to_layer_0</tspan><tspan x="0" y="10.6">INT_MUHENK…</tspan></text></g>
<g id="st-c1" transform="translate(142,140)"><use href="#cb"/><text class="c" y="4">TAB</text></g>
<g id="st-c2" transform="translate(198,140)"><use href="#cb"/><text class="c" y="4">Sft+TAB</text></g>
<g id="st-c3" transform="translate(86,196)"><use href="#cb"/><text class="c" y="4">"</text></g>
<g id="st-c4" transform="translate(310,196)"><use href="#cb"/><text class="c" y="4">=</text></g>
</g>
</g>

<text class="footer" x="758" y="2548">Created with keymap-drawer</text>
</svg>
